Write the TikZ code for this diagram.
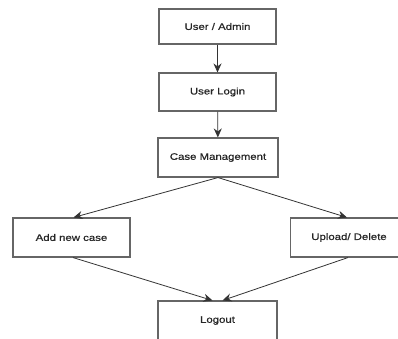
\documentclass[tikz,border=0pt]{standalone}
\usepackage{fontspec}
\setmainfont{Liberation Sans}[FakeStretch=1.2, FakeBold=0.8]
\usetikzlibrary{arrows.meta}

\begin{document}
\begin{tikzpicture}[x=1pt, y=-1pt,
    box/.style={draw=black!60, line width=1.1pt, minimum width=117pt, minimum height=37pt,
      inner sep=0pt, text=black!85, font=\fontsize{9.5}{11}\selectfont},
    flow/.style={draw=black!80, line width=0.8pt, -{Stealth[length=9pt, width=8pt]}}]
  \clip (0,0) rectangle (398,338);
  \node[box, minimum height=35pt] (user) at (217.5,26.5) {User / Admin};
  \node[box, minimum height=38pt] (login) at (217.5,92) {User Login};
  \node[box, minimum width=120pt, minimum height=39pt] (cases) at (218,157.5) {Case Management};
  \node[box, minimum height=39pt] (addcase) at (71.5,237.5) {Add new case};
  \node[box, minimum height=39pt] (upload) at (349,237.5) {Upload/ Delete};
  \node[box, minimum width=119pt, minimum height=39pt] (logout) at (217.5,320.5) {Logout};

  \draw[flow] (user) -- (login);
  \draw[flow] (login) -- (cases);
  \draw[flow] (cases.south) -- ([xshift=2pt]addcase.north);
  \draw[flow] (cases.south) -- ([xshift=-2pt]upload.north);
  \draw[flow] ([xshift=1.5pt]addcase.south) -- ([xshift=-5pt]logout.north);
  \draw[flow] ([xshift=-1pt]upload.south) -- ([xshift=5pt]logout.north);
\end{tikzpicture}
\end{document}
